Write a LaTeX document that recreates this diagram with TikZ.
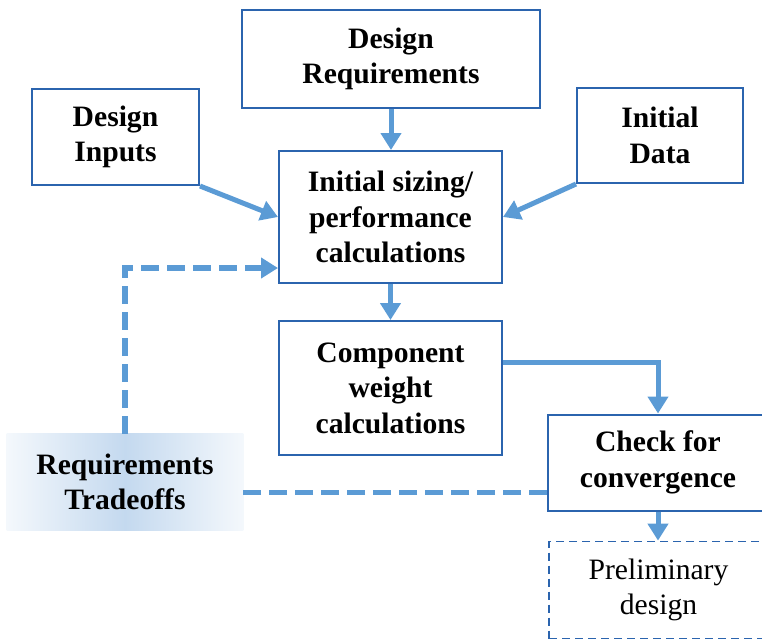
\documentclass[tikz,border=0pt]{standalone}
\usepackage{fontspec}
\setmainfont{Liberation Serif}
\usetikzlibrary{arrows.meta,backgrounds}

\begin{document}
\begin{tikzpicture}[x=0.5pt,y=-0.5pt,
  box/.style={draw=colBordo, line width=1pt, align=center, inner sep=0pt,
    font=\fontsize{14.8}{17.8}\selectfont\bfseries},
  freccia/.style={draw=colFreccia, line width=2.5pt,
    -{Triangle[length=8.5pt,width=10pt]}},
  tratteggio/.style={draw=colFreccia, line width=2.8pt, dash pattern=on 9pt off 4pt}]

% Colori
\definecolor{colBordo}{HTML}{2B64AE}
\definecolor{colFreccia}{HTML}{5B9BD5}
\definecolor{colSfum}{HTML}{C4D9EF}
\definecolor{colSfumB}{HTML}{F4F8FC}

% Area del disegno
\useasboundingbox (0,0) rectangle (762,639);
\clip (0,0) rectangle (762,639);

% Blocchi
\node[box, minimum width=149pt, minimum height=49pt] (dreq) at (391,59) {Design\\Requirements};
\node[box, minimum width=83.5pt, minimum height=48pt] (dinp) at (115.5,137) {Design\\Inputs};
\node[box, minimum width=83pt, minimum height=47.5pt] (idata) at (660,135.5) {Initial\\Data};
\node[box, minimum width=111.5pt, minimum height=66pt] (isize) at (390.5,217) {Initial sizing/\\performance\\calculations};
\node[box, minimum width=111.5pt, minimum height=67pt] (cweight) at (390.5,388) {Component\\weight\\calculations};
\node[box, minimum width=110pt, minimum height=48pt] (check) at (658,462.5) {Check for\\convergence};
\node[box, line width=0.9pt, dash pattern=on 4pt off 2.5pt, minimum width=109.5pt, minimum height=48.5pt,
  font=\fontsize{14.8}{17.8}\selectfont] (prelim) at (658.5,590) {Preliminary\\design};

% Blocco sfumato (tradeoffs)
\node[align=center, inner sep=0pt, minimum width=118pt, minimum height=48pt,
  font=\fontsize{14.8}{17.8}\selectfont\bfseries] (trade) at (125,482) {Requirements\\Tradeoffs};
\begin{scope}[on background layer]
\shade[left color=colSfumB, right color=colSfumB, middle color=colSfum]
  (trade.north west) rectangle (trade.south east);
\end{scope}

% Frecce
\draw[freccia] (dreq.south) -- (dreq.south |- isize.north);
\draw[freccia] (dinp.south east) -- (isize.west);
\draw[freccia] (idata.south west) -- (isize.east);
\draw[freccia] (isize.south) -- (isize.south |- cweight.north);
\draw[freccia] ([yshift=13pt]cweight.east) -| (check.north);
\draw[freccia] (check.south) -- (check.south |- prelim.north);

% Linee tratteggiate
\draw[tratteggio, -{Triangle[length=8.5pt,width=10pt]}] (trade.north) |- ([yshift=-25.5pt]isize.west);
\coordinate (ritorno) at ([yshift=-15pt]check.west);
\draw[tratteggio] (ritorno) -- (ritorno -| trade.east);

\end{tikzpicture}
\end{document}
